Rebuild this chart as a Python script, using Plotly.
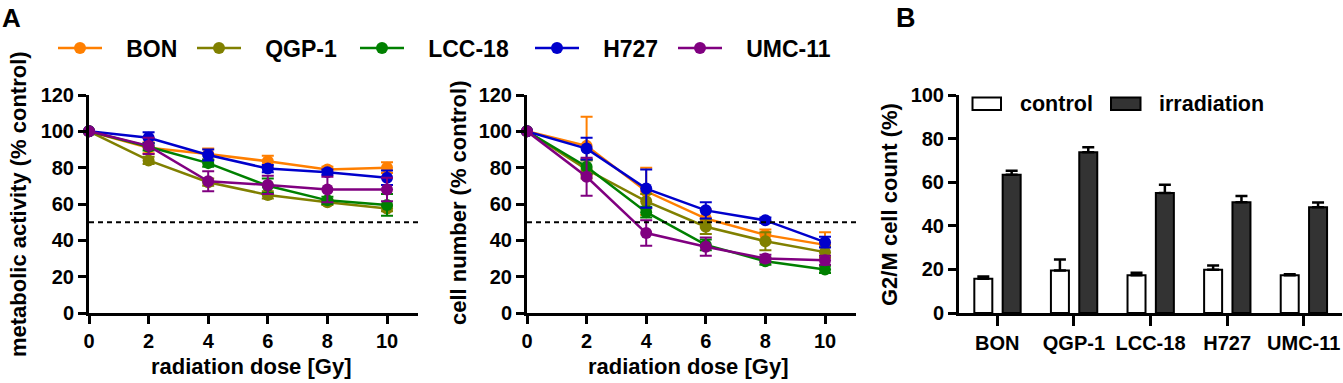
import plotly.graph_objects as go

# ---------------- data ----------------
dose = [0, 2, 4, 6, 8, 10]
cell_lines = ["BON", "QGP-1", "LCC-18", "H727", "UMC-11"]

# metabolic activity (% control)
met_bon = [100, 91, 87.5, 83.5, 79, 80]
met_bon_err = [0, 3, 3, 3, 1.5, 3]
met_qgp = [100, 84, 72, 65, 61, 57.5]
met_qgp_err = [0, 2, 2, 2, 1.5, 1.5]
met_lcc = [100, 91.5, 82.5, 70, 62, 59.5]
met_lcc_err = [0, 2, 2, 4, 2, 6]
met_h727 = [100, 96.5, 87, 79.5, 77.5, 74.5]
met_h727_err = [0, 3, 3, 2, 1.5, 4]
met_umc = [100, 92, 72.5, 70.5, 68, 68]
met_umc_err = [0, 4.5, 5.5, 5, 7, 6.5]

# cell number (% control)
cn_bon = [100, 92, 67, 52, 43, 37.5]
cn_bon_err = [0, 16, 13, 5, 3, 7]
cn_qgp = [100, 79, 61.5, 47.5, 39.5, 33.5]
cn_qgp_err = [0, 5, 4, 4, 5, 3]
cn_lcc = [100, 80.5, 55.5, 37.5, 28.5, 24]
cn_lcc_err = [0, 4, 3, 3, 2, 2]
cn_h727 = [100, 90.5, 68.5, 56.5, 51, 39]
cn_h727_err = [0, 6, 10.5, 4.5, 1.5, 3]
cn_umc = [100, 75, 44, 36.5, 30, 29]
cn_umc_err = [0, 10.5, 7, 5, 2, 2.5]

# G2/M cell count (%)
g2m_control = [15.7, 19.5, 17.3, 19.8, 17.3]
g2m_control_err = [1, 5, 1.2, 2, 0.5]
g2m_irradiation = [63.4, 73.7, 55, 50.8, 48.5]
g2m_irradiation_err = [1.8, 2.3, 3.8, 2.9, 2.2]

half_line = 50

# ---------------- styling ----------------
W, H = 1343, 383
FONT = "Liberation Sans, Arial, sans-serif"
colors = ["#FF7F00", "#808000", "#008000", "#0000CC", "#800080"]
legend_widths = [80, 104, 116, 84, 130]

def fx(p):
    return p / W

def fy(p):
    return 1 - p / H

fig = go.Figure()

met_series = [(met_bon, met_bon_err), (met_qgp, met_qgp_err), (met_lcc, met_lcc_err),
              (met_h727, met_h727_err), (met_umc, met_umc_err)]
cn_series = [(cn_bon, cn_bon_err), (cn_qgp, cn_qgp_err), (cn_lcc, cn_lcc_err),
             (cn_h727, cn_h727_err), (cn_umc, cn_umc_err)]

for i, name in enumerate(cell_lines):
    for (vals, errs), xa, ya, show in [(met_series[i], "x", "y", True), (cn_series[i], "x2", "y2", False)]:
        fig.add_trace(go.Scatter(
            x=dose, y=vals, xaxis=xa, yaxis=ya,
            mode="lines+markers",
            name="\u00a0\u00a0\u00a0" + name,
            legendgroup=name,
            showlegend=show,
            legendwidth=legend_widths[i],
            line=dict(color=colors[i], width=2.5),
            marker=dict(color=colors[i], size=12),
            error_y=dict(type="data", array=errs, visible=True,
                         color=colors[i], thickness=2, width=6),
            cliponaxis=False,
        ))

# bars
fig.add_trace(go.Bar(
    x=cell_lines, y=g2m_control, xaxis="x3", yaxis="y3", name="control",
    marker=dict(color="white", line=dict(color="black", width=2)),
    width=0.235, offset=-0.300, showlegend=False,
    error_y=dict(type="data", symmetric=False, array=g2m_control_err,
                 arrayminus=[0] * len(g2m_control_err), color="black", thickness=2.5, width=6),
))
fig.add_trace(go.Bar(
    x=cell_lines, y=g2m_irradiation, xaxis="x3", yaxis="y3", name="irradiation",
    marker=dict(color="#333333", line=dict(color="black", width=2)),
    width=0.235, offset=0.070, showlegend=False,
    error_y=dict(type="data", symmetric=False, array=g2m_irradiation_err,
                 arrayminus=[0] * len(g2m_irradiation_err), color="black", thickness=2.5, width=6),
))

tickfont = dict(family=FONT, size=20, color="black", weight="bold")
axis_common = dict(showgrid=False, zeroline=False, showline=True, linecolor="black",
                   linewidth=3, ticks="outside", ticklen=8, tickwidth=3, tickcolor="black",
                   tickfont=tickfont, automargin=False)

ydom = [fy(313), fy(95)]
fig.update_layout(
    width=W, height=H,
    margin=dict(l=0, r=0, t=0, b=0, pad=0),
    paper_bgcolor="white", plot_bgcolor="white",
    font=dict(family=FONT, color="black"),
    barmode="group",
    xaxis=dict(domain=[fx(89), fx(418)], range=[0, 11.04], tick0=0, dtick=2, anchor="y", **axis_common),
    yaxis=dict(domain=ydom, range=[0, 120], tick0=0, dtick=20, anchor="x", **axis_common),
    xaxis2=dict(domain=[fx(527), fx(856)], range=[0, 11.04], tick0=0, dtick=2, anchor="y2", **axis_common),
    yaxis2=dict(domain=ydom, range=[0, 120], tick0=0, dtick=20, anchor="x2", **axis_common),
    xaxis3=dict(domain=[fx(959), fx(1342)], range=[-0.5, 4.5], type="category", anchor="y3",
                **{**axis_common, "ticklen": 10}),
    yaxis3=dict(domain=ydom, range=[0, 100], tick0=0, dtick=20, anchor="x3", **axis_common),
    legend=dict(orientation="h", x=fx(53), xanchor="left", y=fy(48), yanchor="middle",
                font=dict(family=FONT, size=23, color="black", weight="bold"),
                itemwidth=44, bgcolor="rgba(0,0,0,0)", traceorder="normal"),
)

# dashed 50% reference lines
for xr, yr in [("x", "y"), ("x2", "y2")]:
    fig.add_shape(type="line", xref=xr, yref=yr, x0=0, x1=11.04, y0=half_line, y1=half_line,
                  line=dict(color="black", width=2, dash="5px,4px"))

# manual legend for panel B
fig.add_shape(type="rect", xref="paper", yref="paper", x0=fx(972.5), x1=fx(1001), y0=fy(110), y1=fy(97.5),
              line=dict(color="black", width=2), fillcolor="white")
fig.add_shape(type="rect", xref="paper", yref="paper", x0=fx(1111), x1=fx(1140.5), y0=fy(110), y1=fy(97.5),
              line=dict(color="black", width=2), fillcolor="#333333")

def ann(text, x, y, size, angle=0, xanchor="center", yanchor="middle"):
    fig.add_annotation(text=text, x=fx(x), y=fy(y), xref="paper", yref="paper",
                       showarrow=False, textangle=angle, xanchor=xanchor, yanchor=yanchor,
                       font=dict(family=FONT, size=size, color="black", weight="bold"))

ann("control", 1018, 104, 21.5, xanchor="left")
ann("irradiation", 1157, 104, 21.5, xanchor="left")
ann("metabolic activity (% control)", 18, 204, 22, angle=-90)
ann("cell number (% control)", 458, 203, 22, angle=-90)
ann("G2/M cell count (%)", 889, 205, 22, angle=-90)
ann("radiation dose [Gy]", 251, 366, 22)
ann("radiation dose [Gy]", 688, 366, 22)
ann("A", 0, 1, 26, xanchor="left", yanchor="top")
ann("B", 894, 1, 27, xanchor="left", yanchor="top")

fig.write_html("out.html", config={"displayModeBar": False},
               post_script="document.body.style.margin='0px';document.body.style.overflow='hidden';")
